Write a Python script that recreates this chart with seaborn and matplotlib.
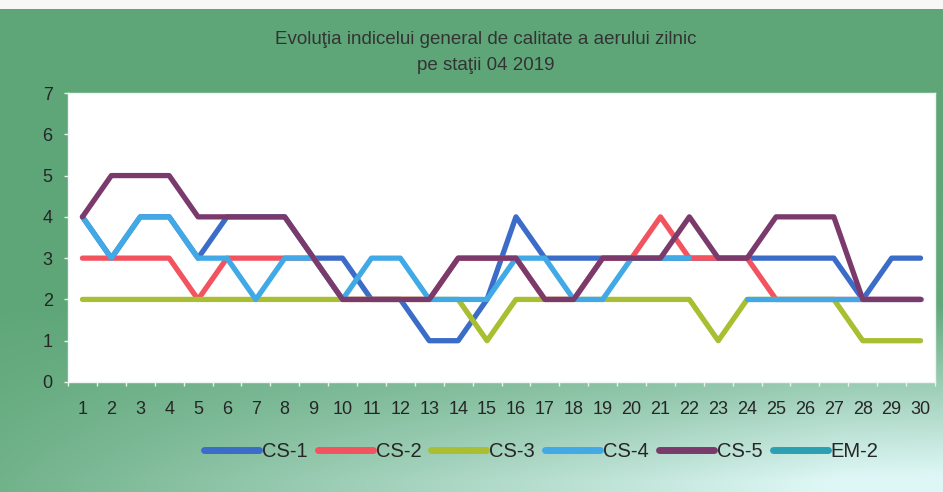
import numpy as np
import pandas as pd
import matplotlib
matplotlib.use("Agg")
import matplotlib.pyplot as plt
from matplotlib.lines import Line2D
import seaborn as sns

nan = np.nan
days = list(range(1, 31))
stations = ["CS-1", "CS-2", "CS-3", "CS-4", "CS-5", "EM-2"]
cs1 = [4, 3, 4, 4, 3, 4, 4, 4, 3, 3, 2, 2, 1, 1, 2, 4, 3, 3, 3, 3, 3, 3, 3, 3, 3, 3, 3, 2, 3, 3]
cs2 = [3, 3, 3, 3, 2, 3, 3, 3, 3, 2, 2, 2, 2, 3, 3, 3, 2, 2, 3, 3, 4, 3, 3, 3, 2, 2, 2, 2, 2, 2]
cs3 = [2, 2, 2, 2, 2, 2, 2, 2, 2, 2, 2, 2, 2, 2, 1, 2, 2, 2, 2, 2, 2, 2, 1, 2, 2, 2, 2, 1, 1, 1]
cs4 = [4, 3, 4, 4, 3, 3, 2, 3, 3, 2, 3, 3, 2, 2, 2, 3, 3, 2, 2, 3, 3, 3, nan, 2, 2, 2, 2, 2, 2, 2]
cs5 = [4, 5, 5, 5, 4, 4, 4, 4, 3, 2, 2, 2, 2, 3, 3, 3, 2, 2, 3, 3, 3, 4, 3, 3, 4, 4, 4, 2, 2, 2]
em2 = [nan] * 30
yticks = list(range(0, 8))

colors = ["#3a6cc8", "#f2535e", "#a9bf31", "#41a9e6", "#7b3a6c", "#2aa0b2"]

series = {"CS-1": cs1, "CS-2": cs2, "CS-3": cs3, "CS-4": cs4, "CS-5": cs5, "EM-2": em2}
rows = []
for name, vals in series.items():
    seg = 0
    for d, v in zip(days, vals):
        if np.isnan(v):
            seg += 1
            continue
        rows.append({"day": d, "val": v, "station": name, "seg": seg})
df = pd.DataFrame(rows)

sns.set_theme(style="white")
plt.rcParams["font.family"] = ["Liberation Sans", "DejaVu Sans"]

W, H = 943, 492
fig = plt.figure(figsize=(W / 100, H / 100), dpi=100)

# background gradient
yy, xx = np.mgrid[0:H, 0:W]
xf = xx / (W - 1)
yf = yy / (H - 1)
green = np.array([94, 166, 120]) / 255.0
cyan = np.array([222, 247, 246]) / 255.0
w = np.clip((yf - 0.62) / 0.36, 0, 1) * np.clip(0.15 + 0.95 * xf, 0, 1)
w = w + 0.12 * np.clip(xf - 0.7, 0, 1) * np.clip((yf - 0.3) / 0.4, 0, 1)
w = np.clip(w, 0, 1)[..., None]
img = green * (1 - w) + cyan * w
img[:9, :, :] = 0.97
fig.figimage(img, xo=0, yo=0, origin="upper", zorder=-5)

ax = fig.add_axes([68 / W, 1 - 382 / H, (935 - 68) / W, (382 - 93) / H])
ax.set_facecolor("white")

sns.lineplot(data=df, x="day", y="val", hue="station", units="seg", estimator=None,
             hue_order=stations, palette=dict(zip(stations, colors)),
             linewidth=3.8, legend=False, ax=ax, sort=False)
for ln in ax.get_lines():
    ln.set_solid_joinstyle("round")
    ln.set_solid_capstyle("round")

ax.set_xlim(0.5, 30.5)
ax.set_ylim(0, 7)
ax.set_xticks(days)
ax.set_xticklabels([str(d) for d in days])
ax.set_xticks(np.arange(0.5, 31, 1), minor=True)
ax.set_yticks(yticks)
ax.set_xlabel("")
ax.set_ylabel("")
ax.tick_params(axis="x", which="major", length=0, pad=14, labelsize=13, labelcolor="#262626")
ax.tick_params(axis="x", which="minor", length=3, width=1, color="#e8f2ee", direction="out", bottom=True)
ax.tick_params(axis="y", which="major", length=3, width=1, color="#e8f2ee", direction="out",
               left=True, pad=8, labelsize=13, labelcolor="#262626")
for s in ax.spines.values():
    s.set_color("#eef5f2")
    s.set_linewidth(1)

fig.text(0.515, 0.919, "Evoluţia indicelui general de calitate a aerului zilnic",
         ha="center", va="center", fontsize=13.5, color="#333333")
fig.text(0.515, 0.866, "pe staţii 04 2019", ha="center", va="center", fontsize=13.5, color="#333333")

handles = [Line2D([0], [0], color=c, lw=5, solid_capstyle="round") for c in colors]
fig.legend(handles, stations, loc="center", bbox_to_anchor=(0.574, 0.083), ncol=6, frameon=False,
           handlelength=2.73, handletextpad=0.15, columnspacing=0.5, fontsize=14.5,
           labelcolor="#262626")

fig.savefig("out.png", dpi=100)
